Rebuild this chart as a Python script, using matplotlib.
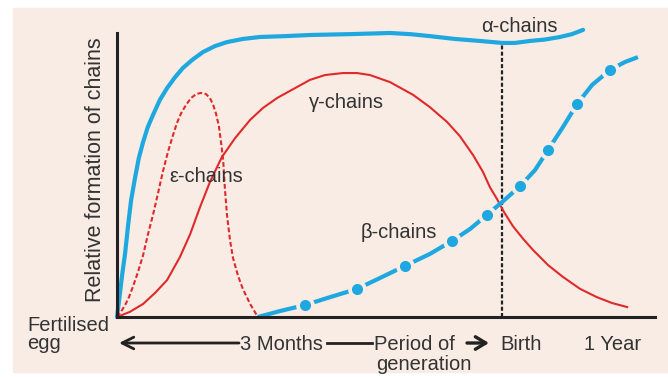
import matplotlib
matplotlib.use("Agg")
import matplotlib.pyplot as plt
from matplotlib.patches import Rectangle
from matplotlib.lines import Line2D

plt.rcParams['font.family'] = ['Liberation Sans', 'DejaVu Sans']

# time since fertilisation (months) and relative formation (0-100)
alpha_month = [0, 0.05, 0.12, 0.19, 0.26, 0.33, 0.42, 0.51, 0.61, 0.72, 0.84, 1.00,
               1.17, 1.36, 1.54, 1.78, 2.01, 2.29, 2.57, 2.94, 3.34, 3.93, 4.51,
               5.44, 6.38, 6.85, 7.31, 7.90, 8.48, 9.00, 9.30, 9.65, 10.00, 10.35,
               10.63, 10.89]
alpha_level = [0, 6.0, 14.8, 22.5, 32.4, 41.2, 48.9, 56.0, 61.6, 66.9, 71.1, 76.4,
               80.6, 84.5, 87.7, 90.8, 93.3, 95.4, 96.8, 97.9, 98.6, 98.9, 99.3,
               99.6, 100.0, 99.6, 98.9, 97.9, 97.2, 96.5, 96.5, 97.2, 97.7, 98.6,
               99.6, 101.1]

gamma_month = [0, 0.30, 0.61, 0.89, 1.17, 1.47, 1.71, 1.94, 2.17, 2.45, 2.76, 3.11,
               3.41, 3.74, 4.16, 4.51, 4.86, 5.28, 5.61, 5.91, 6.38, 6.92, 7.31,
               7.71, 8.01, 8.32, 8.55, 8.71, 8.88, 9.04, 9.25, 9.49, 9.72, 10.07,
               10.42, 10.82, 11.21, 11.57, 11.92]
gamma_level = [0, 1.8, 4.6, 8.5, 13.0, 21.1, 29.2, 38.7, 47.5, 56.3, 63.0, 69.4,
               73.6, 77.1, 80.6, 83.5, 85.2, 85.9, 85.9, 85.2, 82.7, 78.2, 73.9,
               68.7, 63.7, 57.0, 51.1, 45.8, 41.5, 37.0, 32.0, 27.5, 23.6, 18.3,
               14.1, 9.9, 7.0, 4.9, 3.5]

epsilon_month = [0, 0.09, 0.19, 0.28, 0.37, 0.49, 0.61, 0.72, 0.84, 0.96, 1.07, 1.19,
                 1.31, 1.40, 1.50, 1.61, 1.73, 1.85, 1.96, 2.08, 2.17, 2.24, 2.31,
                 2.38, 2.43, 2.48, 2.52, 2.57, 2.64, 2.71, 2.83, 2.94, 3.11, 3.29]
epsilon_level = [0, 1.8, 4.2, 7.0, 10.6, 15.8, 21.8, 28.9, 35.9, 43.7, 51.1, 58.1,
                 64.1, 68.3, 71.8, 74.6, 77.1, 78.5, 78.9, 78.5, 77.1, 75.0, 71.8,
                 67.3, 61.6, 55.3, 45.4, 35.9, 27.1, 20.8, 14.4, 9.9, 4.6, 0]

beta_month = [3.29, 3.81, 4.39, 4.98, 5.61, 6.14, 6.73, 7.31, 7.83, 8.25, 8.64, 9.00,
              9.42, 9.77, 10.07, 10.42, 10.75, 11.10, 11.52, 11.87, 12.17]
beta_level = [0, 2.1, 4.2, 7.0, 9.9, 13.7, 18.0, 22.2, 26.8, 31.0, 35.9, 40.5,
              46.1, 51.8, 58.8, 66.9, 75.0, 81.7, 87.0, 89.8, 91.5]
beta_dot_month = [4.39, 5.61, 6.73, 7.83, 8.64, 9.42, 10.07, 10.75, 11.52]
beta_dot_level = [4.2, 9.9, 18.0, 26.8, 35.9, 46.1, 58.8, 75.0, 87.0]

birth_month = 9.0

bg = '#f8ece4'
blue = '#1fa8e0'
red = '#e02a2a'
ink = '#222222'
txt = '#333333'

W, H = 668, 377
fig = plt.figure(figsize=(W / 100, H / 100), dpi=100)
fig.patches.append(Rectangle((13 / W, 5 / H), 1, (H - 13) / H,
                             transform=fig.transFigure, color=bg, zorder=0))

ax = fig.add_axes([117 / W, 60 / H, (655 - 117) / W, (317 - 20) / H])
ax.set_zorder(2)
ax.set_facecolor('none')
ax.set_xlim(0, (655 - 117) / 42.8)
ax.set_ylim(0, (317 - 20) / 2.84)
for s in ['top', 'right']:
    ax.spines[s].set_visible(False)
for s in ['left', 'bottom']:
    ax.spines[s].set_color(ink)
    ax.spines[s].set_linewidth(2.2)
    ax.spines[s].set_zorder(6)
ax.spines['left'].set_bounds(0, 100)
ax.set_xticks([])
ax.set_yticks([])

# curves
ax.plot(alpha_month, alpha_level, color=blue, lw=3, solid_capstyle='round',
        solid_joinstyle='round', clip_on=False, zorder=3)
ax.plot(gamma_month, gamma_level, color=red, lw=1.5, solid_joinstyle='round',
        clip_on=False, zorder=3)
ax.plot(epsilon_month, epsilon_level, color=red, lw=1.5, ls=(0, (2.3, 1.2)),
        clip_on=False, zorder=3)
ax.plot(beta_month, beta_level, color=blue, lw=3, solid_capstyle='butt',
        solid_joinstyle='round', clip_on=False, zorder=3)
ax.plot(beta_dot_month, beta_dot_level, 'o', ms=13.5, color=bg, mew=0,
        clip_on=False, zorder=4)
ax.plot(beta_dot_month, beta_dot_level, 'o', ms=8, color=blue, mew=0,
        clip_on=False, zorder=5)

# birth marker
birth_top = alpha_level[alpha_month.index(birth_month)]
ax.plot([birth_month, birth_month], [0, birth_top], color=ink, lw=1.6,
        ls=(0, (1.8, 1.0)), zorder=2)


def px(x, y):
    return x / W, 1 - y / H


fs = 14.5
ax.text(*px(519, 27), 'α-chains', transform=fig.transFigure, ha='center',
        va='center', fontsize=fs, color=txt)
ax.text(*px(346, 103), 'γ-chains', transform=fig.transFigure, ha='center',
        va='center', fontsize=fs, color=txt)
ax.text(*px(206, 177), 'ε-chains', transform=fig.transFigure, ha='center',
        va='center', fontsize=fs, color=txt)
ax.text(*px(399, 232), 'β-chains', transform=fig.transFigure, ha='center',
        va='center', fontsize=fs, color=txt)

fig.text(*px(96, 170), 'Relative formation of chains', rotation=90,
         ha='center', va='center', fontsize=15.5, color=txt)
fig.text(*px(27, 331), 'Fertilised', ha='left', va='baseline', fontsize=fs, color=txt)
fig.text(*px(27, 349), 'egg', ha='left', va='baseline', fontsize=fs, color=txt)

fig.text(*px(240, 350), '3 Months', ha='left', va='baseline', fontsize=fs, color=txt)
fig.text(*px(374, 350), 'Period of', ha='left', va='baseline', fontsize=fs, color=txt)
fig.text(*px(376, 370), 'generation', ha='left', va='baseline', fontsize=fs, color=txt)
fig.text(*px(500, 350), 'Birth', ha='left', va='baseline', fontsize=fs, color=txt)
fig.text(*px(584, 350), '1 Year', ha='left', va='baseline', fontsize=fs, color=txt)

# timeline arrows
ax.annotate('', xy=px(119, 343), xytext=px(239, 343),
            xycoords='figure fraction', textcoords='figure fraction',
            annotation_clip=False,
            arrowprops=dict(arrowstyle='->,head_length=0.6,head_width=0.3',
                            lw=2, color=ink, mutation_scale=14,
                            shrinkA=0, shrinkB=0))
fig.add_artist(Line2D([327 / W, 372 / W], [1 - 343 / H, 1 - 343 / H],
                      color=ink, lw=2, transform=fig.transFigure))
ax.annotate('', xy=px(489, 343), xytext=px(467, 343),
            xycoords='figure fraction', textcoords='figure fraction',
            annotation_clip=False,
            arrowprops=dict(arrowstyle='->,head_length=0.5,head_width=0.3',
                            lw=2.4, color=ink, mutation_scale=15,
                            shrinkA=0, shrinkB=0))

fig.savefig('out.png', dpi=100, facecolor='white')
